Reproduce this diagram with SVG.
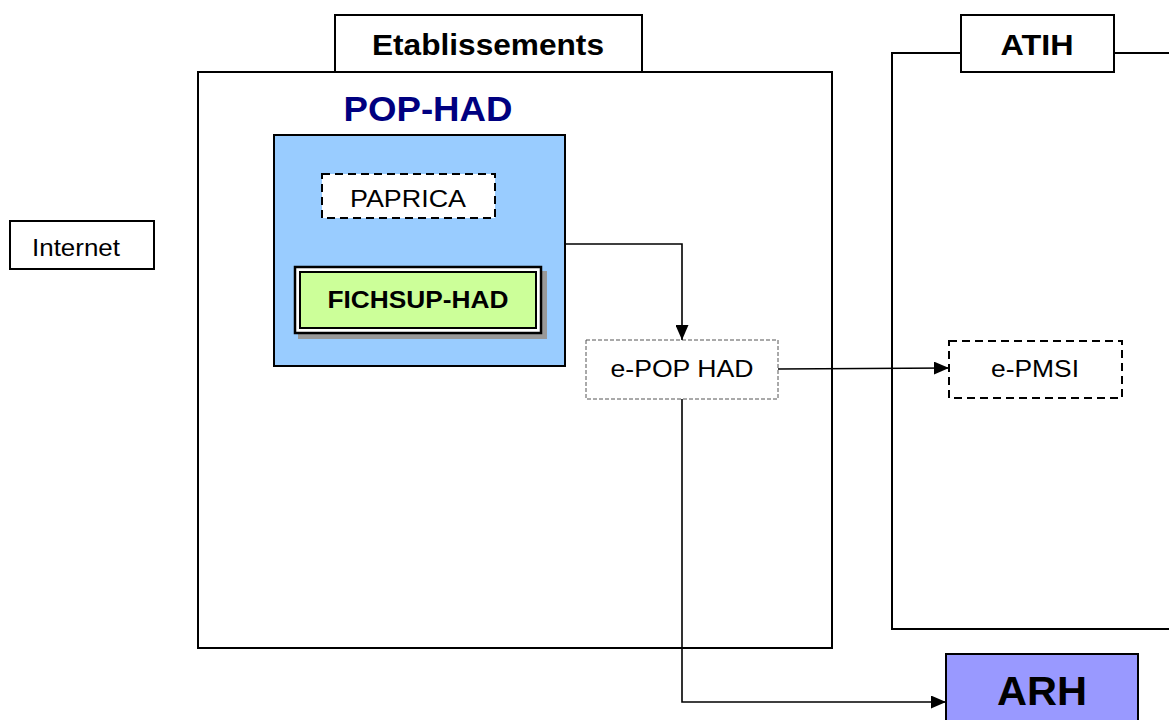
<svg xmlns="http://www.w3.org/2000/svg" width="1169" height="720" viewBox="0 0 1169 720">
<defs>
<style>
.t{font-family:"Liberation Sans",Arial,sans-serif;fill:#000;text-anchor:middle}
.b{font-weight:bold}
.frame{fill:#fff;stroke:#000;stroke-width:2}
.dash{fill:#fff;stroke:#000;stroke-width:2;stroke-dasharray:8,5}
.dash2{fill:#fff;stroke:#555;stroke-width:1;stroke-dasharray:4,2}
.conn{fill:none;stroke:#000;stroke-width:1.6}
</style>
<marker id="ah" viewBox="0 0 10 10" refX="10" refY="5" markerWidth="15" markerHeight="13" markerUnits="userSpaceOnUse" orient="auto" preserveAspectRatio="none">
<path d="M0,0L10,5L0,10z" fill="#000"/>
</marker>
</defs>
<rect width="1169" height="720" fill="#fff"/>
<g id="etablissements">
<rect class="frame" x="198" y="72" width="634" height="576"/>
<rect class="frame" x="335" y="15" width="307" height="57"/>
<text class="t b" x="488" y="55" font-size="29" textLength="232" lengthAdjust="spacingAndGlyphs">Etablissements</text>
</g>
<g id="atih">
<path d="M1169,629H892V53H961M1115,53H1169" fill="#fff" stroke="#000" stroke-width="2"/>
<rect class="frame" x="961" y="15" width="153" height="57"/>
<text class="t b" x="1037" y="55" font-size="29" textLength="73" lengthAdjust="spacingAndGlyphs">ATIH</text>
</g>
<g id="pophad">
<text class="t b" x="428" y="121" font-size="35" style="fill:#000080" textLength="169" lengthAdjust="spacingAndGlyphs">POP-HAD</text>
<rect x="274" y="135" width="291" height="231" fill="#99CCFF" stroke="#000" stroke-width="2"/>
</g>
<g id="paprica">
<rect class="dash" x="322" y="174" width="173" height="44"/>
<text class="t" x="408" y="207" font-size="24" textLength="116" lengthAdjust="spacingAndGlyphs">PAPRICA</text>
</g>
<g id="fichsup">
<rect x="299" y="272" width="247" height="66" fill="#999" stroke="#999" stroke-width="2"/>
<rect x="295" y="267" width="246" height="66" fill="#fff" stroke="#000" stroke-width="2.5"/>
<rect x="300" y="272" width="236" height="56" fill="#CCFF99" stroke="#000" stroke-width="2"/>
<text class="t b" x="418" y="308" font-size="24" textLength="181" lengthAdjust="spacingAndGlyphs">FICHSUP-HAD</text>
</g>
<g id="internet">
<rect class="frame" x="10" y="221" width="144" height="48" stroke-width="1.5"/>
<text class="t" x="76" y="256" font-size="23" textLength="88" lengthAdjust="spacingAndGlyphs">Internet</text>
</g>
<g id="epophad">
<rect class="dash2" x="586" y="340" width="192" height="59"/>
<text class="t" x="682" y="377" font-size="24" textLength="143" lengthAdjust="spacingAndGlyphs">e-POP HAD</text>
</g>
<g id="epmsi">
<rect class="dash" x="949" y="341" width="173" height="57"/>
<text class="t" x="1035" y="377" font-size="24" textLength="88" lengthAdjust="spacingAndGlyphs">e-PMSI</text>
</g>
<g id="arh">
<rect x="946" y="654" width="192" height="70" fill="#9999FF" stroke="#000" stroke-width="2"/>
<text class="t b" x="1042" y="705" font-size="41" textLength="90" lengthAdjust="spacingAndGlyphs">ARH</text>
</g>
<g id="connectors">
<path class="conn" d="M566,244H682V340" marker-end="url(#ah)"/>
<path class="conn" d="M778,369L949,368" marker-end="url(#ah)"/>
<path class="conn" d="M682,399V702H946" marker-end="url(#ah)"/>
</g>
</svg>
